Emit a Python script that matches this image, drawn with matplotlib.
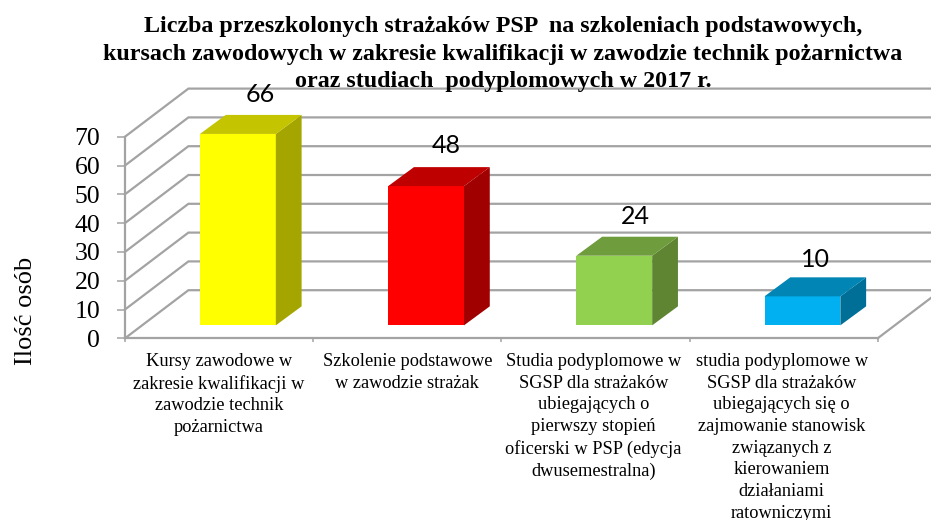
import matplotlib
matplotlib.use("Agg")
import matplotlib.pyplot as plt
from matplotlib.patches import Polygon

categories = [
    "Kursy zawodowe w\nzakresie kwalifikacji w\nzawodzie technik\npożarnictwa",
    "Szkolenie podstawowe\nw zawodzie strażak",
    "Studia podyplomowe w\nSGSP dla strażaków\nubiegających o\npierwszy stopień\noficerski w PSP (edycja\ndwusemestralna)",
    "studia podyplomowe w\nSGSP dla strażaków\nubiegających się o\nzajmowanie stanowisk\nzwiązanych z\nkierowaniem\ndziałaniami\nratowniczymi",
]
values = [66, 48, 24, 10]
front_colors = ["#FFFF00", "#FF0000", "#92D050", "#00B0F0"]
top_colors = ["#C4C400", "#BE0000", "#6F9C3D", "#0085B5"]
side_colors = ["#A5A500", "#A00000", "#5F8532", "#006F98"]
y_ticks = [0, 10, 20, 30, 40, 50, 60, 70]
title_lines = [
    "Liczba przeszkolonych strażaków PSP  na szkoleniach podstawowych,",
    "kursach zawodowych w zakresie kwalifikacji w zawodzie technik pożarnictwa",
    "oraz studiach  podyplomowych w 2017 r.",
]

GRID = "#A3A3A3"
SERIF = "Liberation Serif"

# fake 3D: depth of the box and of the bars, in data units
wall_dx, wall_dy = 0.337, 16.7
bar_dx, bar_dy = 0.137, 6.6
bar_width = 0.403
bar_lift = 4.5
bar_scale = 1.007
bar_shift = 0.1

fig = plt.figure(figsize=(9.31, 5.2), dpi=100)
ax = fig.add_axes([125 / 931, (520 - 338.3) / 520, 752.7 / 931, 201.6 / 520])
ax.set_xlim(0, 4)
ax.set_ylim(0, 70)
ax.patch.set_visible(False)

# walls and floor
for v in y_ticks:
    ax.plot([0, wall_dx, 4.4], [v, v + wall_dy, v + wall_dy], color=GRID, lw=1.6,
            clip_on=False, zorder=1, solid_joinstyle="miter")
ax.plot([4, 4 + wall_dx], [0, wall_dy], color=GRID, lw=1.6, clip_on=False, zorder=1)

# bars
for i, v in enumerate(values):
    x0 = i + 0.5 + bar_shift - bar_width / 2
    x1 = x0 + bar_width
    y0 = bar_lift
    y1 = bar_lift + v * bar_scale
    ax.bar(x0, v * bar_scale, width=bar_width, bottom=y0, align="edge",
           color=front_colors[i], zorder=3, clip_on=False)
    ax.add_patch(Polygon([(x1, y0), (x1 + bar_dx, y0 + bar_dy), (x1 + bar_dx, y1 + bar_dy), (x1, y1)],
                         color=side_colors[i], lw=0, clip_on=False, zorder=3))
    ax.add_patch(Polygon([(x0, y1), (x0 + bar_dx, y1 + bar_dy), (x1 + bar_dx, y1 + bar_dy), (x1, y1)],
                         color=top_colors[i], lw=0, clip_on=False, zorder=3))

# value labels sit a bit right of the bar top
label_dx = [0.117, 0.106, 0.114, 0.069]
label_dy = [13.7, 14, 13.7, 12.7]
for i, v in enumerate(values):
    ax.text(i + 0.5 + bar_shift + label_dx[i], bar_lift + v * bar_scale + label_dy[i], str(v),
            ha="center", va="center", family="Lato", fontsize=18, color="black", zorder=4)

for side in ["top", "right"]:
    ax.spines[side].set_visible(False)
for side in ["left", "bottom"]:
    ax.spines[side].set_color(GRID)
    ax.spines[side].set_linewidth(1.6)

ax.set_yticks(y_ticks)
ax.set_yticklabels([str(v) for v in y_ticks], family=SERIF, fontsize=18.5)
ax.tick_params(axis="y", length=5.8, width=1.1, color=GRID, pad=12)
ax.set_xticks([0, 1, 2, 3, 4])
ax.set_xticklabels([])
ax.set_xticks([0.5, 1.5, 2.49, 3.49], minor=True)
ax.set_xticklabels(categories, minor=True, family=SERIF, fontsize=13.2, linespacing=1.36)
ax.tick_params(axis="x", which="major", length=3, width=1.1, color=GRID)
ax.tick_params(axis="x", which="minor", length=0, pad=10.5)

fig.text(32 / 931, 1 - 311 / 520, "Ilość osób", rotation=90, rotation_mode="anchor",
         ha="center", va="baseline", family=SERIF, fontsize=19)

# title lines are separate so the third one can sit on the back gridline
title_baselines = [32, 60, 87]
for line, base in zip(title_lines, title_baselines):
    fig.text(503 / 931, 1 - base / 520, line, ha="center", va="baseline", family=SERIF,
             fontweight="bold", fontsize=17.3, zorder=5)

fig.savefig("out.png", dpi=100)
